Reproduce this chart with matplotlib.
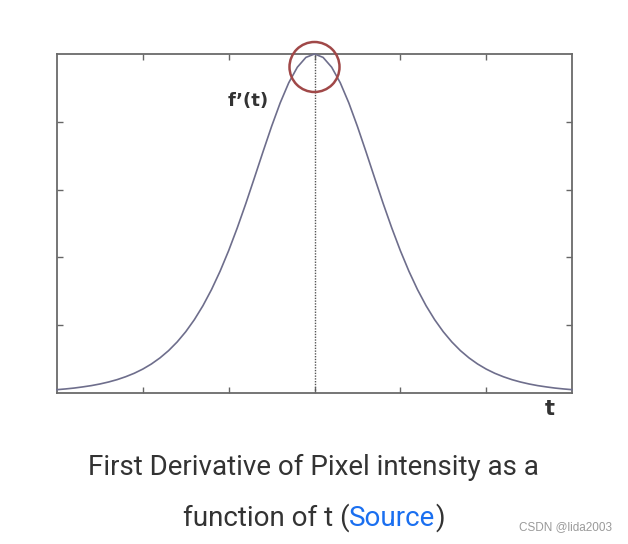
import matplotlib
matplotlib.use("Agg")
import matplotlib.pyplot as plt
from matplotlib.patches import Ellipse

# data
t_vals = [-3.0, -2.9, -2.8, -2.7, -2.6, -2.5, -2.4, -2.3, -2.2, -2.1, -2.0, -1.9, -1.8, -1.7,
          -1.6, -1.5, -1.4, -1.3, -1.2, -1.1, -1.0, -0.9, -0.8, -0.7, -0.6, -0.5, -0.4, -0.3,
          -0.2, -0.1, 0.0, 0.1, 0.2, 0.3, 0.4, 0.5, 0.6, 0.7, 0.8, 0.9, 1.0, 1.1, 1.2, 1.3,
          1.4, 1.5, 1.6, 1.7, 1.8, 1.9, 2.0, 2.1, 2.2, 2.3, 2.4, 2.5, 2.6, 2.7, 2.8, 2.9, 3.0]
f_vals = [0.049, 0.060, 0.073, 0.090, 0.109, 0.133, 0.162, 0.197, 0.240, 0.291, 0.353, 0.428,
          0.518, 0.625, 0.753, 0.904, 1.081, 1.287, 1.525, 1.796, 2.100, 2.435, 2.795, 3.174,
          3.558, 3.932, 4.278, 4.576, 4.805, 4.950, 5.000, 4.950, 4.805, 4.576, 4.278, 3.932,
          3.558, 3.174, 2.795, 2.435, 2.100, 1.796, 1.525, 1.287, 1.081, 0.904, 0.753, 0.625,
          0.518, 0.428, 0.353, 0.291, 0.240, 0.197, 0.162, 0.133, 0.109, 0.090, 0.073, 0.060,
          0.049]
x_ticks = [-2, -1, 0, 1, 2]
y_ticks = [1, 2, 3, 4]
curve_label = "f\u2019(t)"
x_label = "t"
caption1 = "First Derivative of Pixel intensity as a"
caption2_parts = ["function of t (", "Source", ")"]
watermark = "CSDN @lida2003"

W, H = 628, 544
fig = plt.figure(figsize=(W / 100, H / 100), dpi=100)
fig.patch.set_facecolor("white")
ax = fig.add_axes([57 / W, 1 - 393 / H, (572 - 57) / W, (393 - 54) / H])
ax.set_xlim(-3, 3)
ax.set_ylim(0, 5)

ax.plot(t_vals, f_vals, color="#6e6e8c", lw=1.2, clip_on=False, zorder=3)
ax.plot([0, 0], [0, 5], color="#555555", lw=1.0, ls=(0, (1, 1)), zorder=2)

ax.add_patch(Ellipse((0, 5 - 13 / 67.8), width=50 / 85.8, height=50 / 67.8,
                     fill=False, edgecolor="#a04848", lw=1.8, clip_on=False, zorder=4))

ax.set_xticks(x_ticks)
ax.set_yticks(y_ticks)
ax.tick_params(direction="in", length=4, width=1.0, color="#666666",
               top=True, right=True, labelbottom=False, labelleft=False)
for s in ax.spines.values():
    s.set_color("#6a6a6a")
    s.set_linewidth(1.3)

fig.text(248 / W, 1 - 101 / H, curve_label, ha="center", va="center",
         fontsize=13, color="#333333", family="DejaVu Sans", weight="bold")
fig.text(550 / W, 1 - 409 / H, x_label, ha="center", va="center",
         fontsize=15, color="#333333", family="DejaVu Sans", weight="bold")

fig.text(313 / W, 1 - 467 / H, caption1, ha="center", va="center",
         fontsize=20, color="#333333", family="Roboto")

# second caption line with a blue word
fig.canvas.draw()
r = fig.canvas.get_renderer()
colors = ["#333333", "#1a6ff0", "#333333"]
texts = []
widths = []
for part, c in zip(caption2_parts, colors):
    tt = fig.text(0, 1 - 518 / H, part, ha="left", va="center", fontsize=20,
                  color=c, family="Roboto")
    texts.append(tt)
    widths.append(tt.get_window_extent(renderer=r).width)
total = sum(widths)
x0 = 314 - total / 2
for tt, w in zip(texts, widths):
    tt.set_x(x0 / W)
    x0 += w

fig.text(612 / W, 1 - 527 / H, watermark, ha="right", va="center",
         fontsize=8.5, color="#9a9a9a", family="Liberation Sans")

fig.savefig("out.png", dpi=100, facecolor="white")
